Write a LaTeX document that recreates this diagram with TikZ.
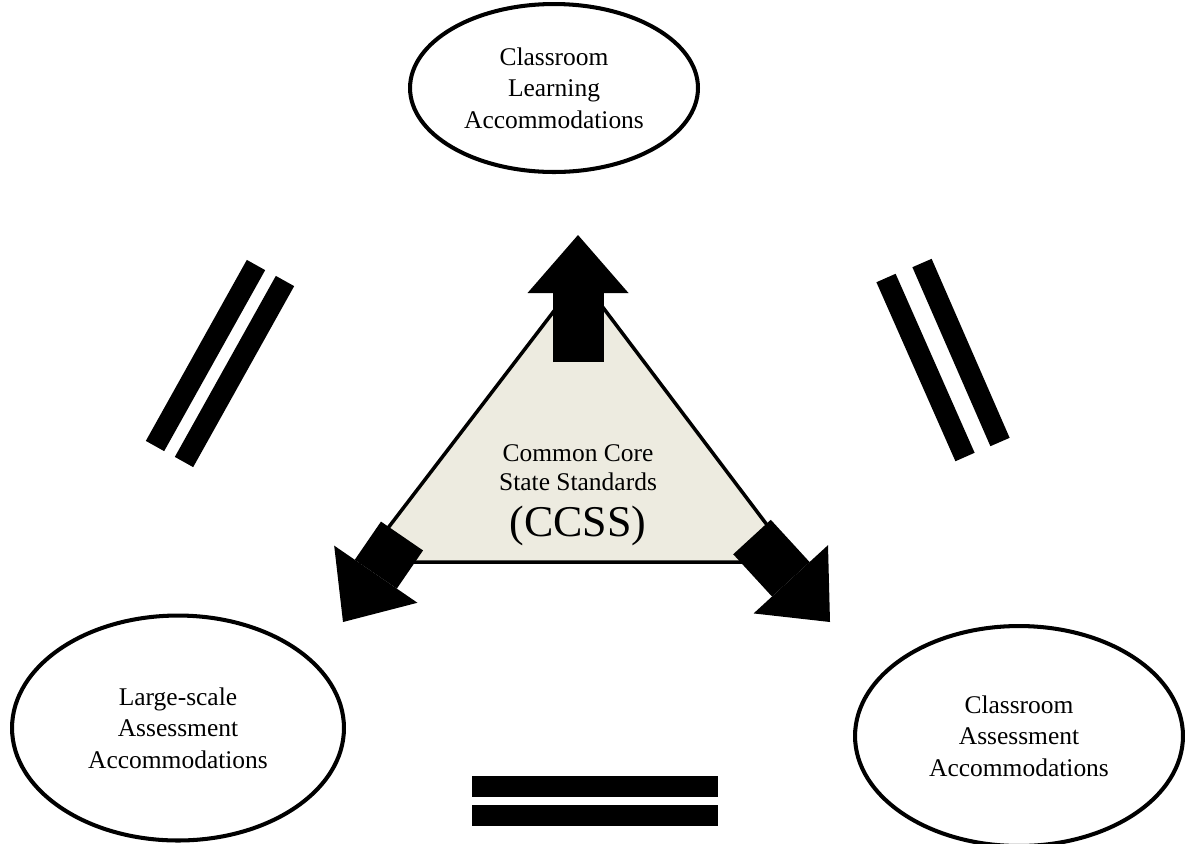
\documentclass[tikz,border=0pt]{standalone}
\usepackage{fontspec}
\setmainfont{Liberation Serif}
\usetikzlibrary{arrows.meta}
\usetikzlibrary{shapes.geometric}
\definecolor{corefill}{RGB}{237,235,224}

\begin{document}
\begin{tikzpicture}[
    x=0.02cm, y=-0.02cm,
    goal/.style={ellipse, draw, line width=2.3pt, align=center, inner sep=0pt,
        font=\fontsize{14.5}{18}\selectfont},
    blockarrow/.style={line width=1.02cm,
        -{Triangle[length=1.16cm, width=2.02cm, line width=0pt]}},
    equalbar/.style={line width=0.42cm}
]
    \useasboundingbox (0,0) rectangle (1185,843);

    % Accommodation ellipses
    \node[goal, minimum width=5.76cm, minimum height=3.36cm] (learn) at (554,88)
        {Classroom\\Learning\\Accommodations};
    \node[goal, minimum width=6.64cm, minimum height=4.5cm] (large) at (178,728)
        {Large-scale\\Assessment\\Accommodations};
    \node[goal, minimum width=6.56cm, minimum height=4.4cm] (assess) at (1019,736)
        {Classroom\\Assessment\\Accommodations};

    % Core triangle
    \coordinate (apex) at (580,277);
    \coordinate (lcorner) at (362,562);
    \coordinate (rcorner) at (795,562);
    \draw[line width=2pt, fill=corefill] (apex) -- (lcorner) -- (rcorner) -- cycle;
    \node[align=center, font=\fontsize{14.5}{16.5}\selectfont] (core) at (578,468)
        {Common Core\\State Standards};
    \node[font=\fontsize{25}{28}\selectfont] (ccss) at (578,526) {(CCSS)};

    % Arrows towards the ellipses
    \coordinate (upTail) at (578,362);
    \coordinate (upTip) at (578,235);
    \coordinate (leftTail) at (402,536);
    \coordinate (leftTip) at (343,622);
    \coordinate (rightTail) at (752,537);
    \coordinate (rightTip) at (830,622);
    \draw[blockarrow] (upTail) -- (upTip);
    \draw[blockarrow] (leftTail) -- (leftTip);
    \draw[blockarrow] (rightTail) -- (rightTip);

    % Equal signs between the ellipses
    \draw[equalbar] (256,265) -- (155,446);
    \draw[equalbar] (285,281) -- (184,462);
    \draw[equalbar] (886,278) -- (965,457);
    \draw[equalbar] (922,263) -- (1000,442);
    \draw[equalbar] (472,786) -- (718,786);
    \draw[equalbar] (472,815) -- (718,815);
\end{tikzpicture}
\end{document}
